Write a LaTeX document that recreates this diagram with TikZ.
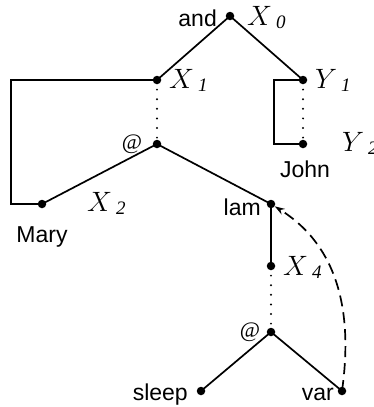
\documentclass[tikz,border=0pt]{standalone}
\usepackage{fontspec}
\usepackage{graphicx}
\setsansfont{Liberation Sans}
\newfontfamily\digfont{Liberation Serif}
\usetikzlibrary{arrows.meta}
\newcommand{\lbl}[2]{\scalebox{1.35}{$#1$}\hspace{4pt}\raisebox{-3pt}{\digfont\itshape\fontsize{19}{19}\selectfont #2}}
\begin{document}
\begin{tikzpicture}[x=1pt,y=-1pt,
  dot/.style={circle,fill,inner sep=0pt,minimum size=8.5pt},
  edge/.style={line width=1.7pt},
  dotline/.style={line width=2.2pt,line cap=round,dash pattern=on 0pt off 9.6pt},
  txt/.style={font=\sffamily\fontsize{23}{26}\selectfont,inner sep=0pt},
  atl/.style={font=\digfont\fontsize{22}{24}\selectfont,inner sep=0pt},
  var/.style={font=\fontsize{20.74}{24}\selectfont,inner sep=0pt,anchor=base west}]
\useasboundingbox (0,0) rectangle (374,407);
% nodes
\node[dot] (x0) at (230,16) {};
\node[dot] (x1) at (157,80) {};
\node[dot] (y1) at (303,80) {};
\node[dot] (a1) at (157,144) {};
\node[dot] (y2) at (303,144) {};
\node[dot] (mary) at (42,204) {};
\node[dot] (lam) at (271,204) {};
\node[dot] (x4) at (271,266) {};
\node[dot] (a2) at (271,332) {};
\node[dot] (sleep) at (201,391) {};
\node[dot] (varn) at (342,391) {};
\coordinate (ml1) at (11,80);
\coordinate (ml2) at (11,204);
\coordinate (jl1) at (274,80);
\coordinate (jl2) at (274,144);
% labels
\node[txt,anchor=base east] (tand) at (217,26) {and};
\node[var] (lx0) at (247,25) {\lbl{X}{0}};
\node[var] (lx1) at (169,88) {\lbl{X}{1}};
\node[var] (ly1) at (315,88) {\lbl{Y}{1}};
\node[var] (ly2) at (342,151) {\lbl{Y}{2}};
\node[atl] (tat1) at (132,144) {@};
\node[txt,anchor=base] (tjohn) at (305,177) {John};
\node[txt,anchor=base] (tmary) at (42,242) {Mary};
\node[var] (lx2) at (87,211) {\lbl{X}{2}};
\node[txt,anchor=base east] (tlam) at (261,215) {lam};
\node[var] (lx4) at (283,275) {\lbl{X}{4}};
\node[atl] (tat2) at (250,332) {@};
\node[txt,anchor=base east] (tsleep) at (188,400) {sleep};
\node[txt,anchor=base east] (tvar) at (334,400) {var};
% edges
\draw[edge] (x0.center) -- (x1.center);
\draw[edge] (x0.center) -- (y1.center);
\draw[edge] (a1.center) -- (mary.center);
\draw[edge] (a1.center) -- (lam.center);
\draw[edge] (lam.center) -- (x4.center);
\draw[edge] (a2.center) -- (sleep.center);
\draw[edge] (a2.center) -- (varn.center);
\draw[edge] (x1.center) -- (ml1) -- (ml2) -- (mary.center);
\draw[edge] (y1.center) -- (jl1) -- (jl2) -- (y2.center);
% dotted
\draw[dotline] (x1.center) -- (a1.center);
\draw[dotline] (y1.center) -- (y2.center);
\draw[dotline] (x4.center) -- (a2.center);
% dashed arrow
\draw[edge,dash pattern=on 11pt off 6pt,-{Stealth[length=10pt,width=6.5pt]}]
  (varn.center) to[out=82,in=-32] (lam);
\end{tikzpicture}
\end{document}
